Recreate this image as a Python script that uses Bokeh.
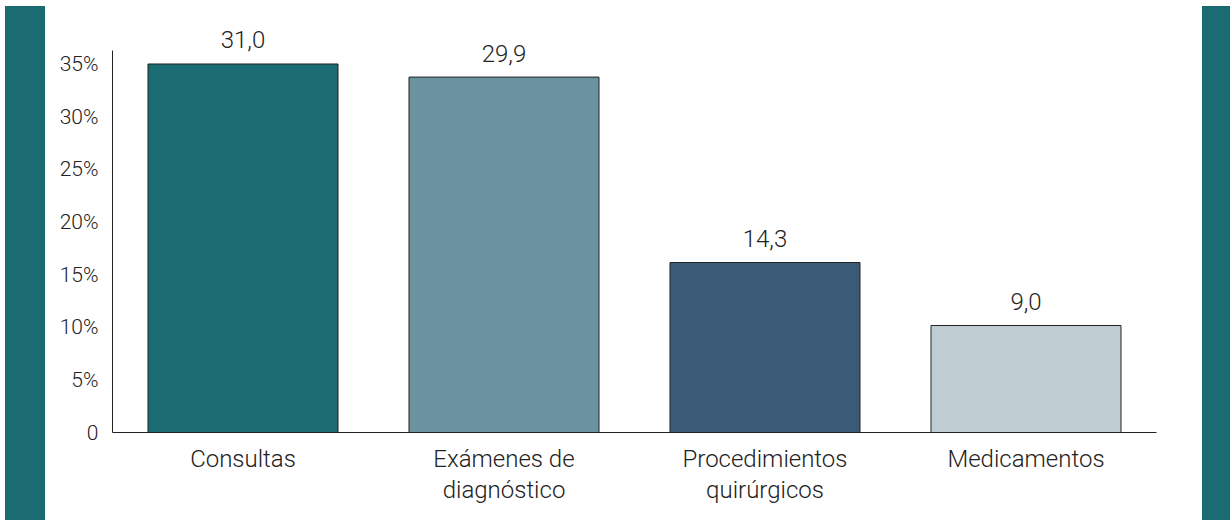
from bokeh.plotting import figure
from bokeh.models import ColumnDataSource, Range1d, FactorRange, FixedTicker, Div
from bokeh.layouts import row
from bokeh.embed import file_html
from bokeh.resources import INLINE
from bokeh.core.properties import value

categories = ["Consultas", "Exámenes de\ndiagnóstico", "Procedimientos\nquirúrgicos", "Medicamentos"]
values = [31.0, 29.9, 14.3, 9.0]
colors = ["#1b6b73", "#6a939f", "#3a5a75", "#bfcdd3"]
tick_pcts = [0, 5, 10, 15, 20, 25, 30, 35]
tick_labels = ["0", "5%", "10%", "15%", "20%", "25%", "30%", "35%"]

FONT = "Roboto Light"
TXT = "#222222"
STRIP = "#1b6b73"

labels = [f"{v:.1f}".replace(".", ",") for v in values]
src = ColumnDataSource(dict(cat=categories, val=values, col=colors, lab=labels))

p = figure(width=1157, height=520, x_range=FactorRange(*categories, range_padding=0.0),
           y_range=Range1d(0, 35.5), output_backend="svg", toolbar_location=None,
           min_border_left=67, min_border_right=46, min_border_top=10, min_border_bottom=88)
p.outline_line_color = None
p.grid.grid_line_color = None
p.background_fill_color = "white"
p.border_fill_color = "white"

p.vbar(x="cat", top="val", width=0.728, fill_color="col", line_color="#222222", line_width=1, source=src)
p.text(x="cat", y="val", text="lab", source=src, text_align="center", text_baseline="alphabetic",
       y_offset=-24, text_font=value(FONT), text_font_size="24px", text_color=TXT)

# y axis ticks: top tick (35%) aligned to the largest value, as in the source chart
scale = max(values) / max(tick_pcts)
tick_pos = [t * scale for t in tick_pcts]
p.yaxis.ticker = FixedTicker(ticks=tick_pos)
p.yaxis.major_label_overrides = {tp: lab for tp, lab in zip(tick_pos, tick_labels)}
p.yaxis.bounds = (0, 32.1)
for ax in (p.xaxis, p.yaxis):
    ax.major_tick_line_color = None
    ax.minor_tick_line_color = None
    ax.axis_line_color = "#222222"
    ax.axis_line_width = 1
    ax.major_label_text_font = FONT
    ax.major_label_text_font_size = "21px"
    ax.major_label_text_color = TXT
p.yaxis.major_label_standoff = 8
p.xaxis.major_label_standoff = 6
p.xaxis.major_label_text_line_height = 1.12
p.xaxis.major_label_text_font_size = "24px"

left = Div(width=40, height=514, styles={"background-color": STRIP}, margin=(6, 0, 0, 5))
right = Div(width=28, height=514, styles={"background-color": STRIP}, margin=(6, 0, 0, 0))
layout = row(left, p, right, spacing=0)

open("out.html", "w").write(file_html(layout, INLINE))
